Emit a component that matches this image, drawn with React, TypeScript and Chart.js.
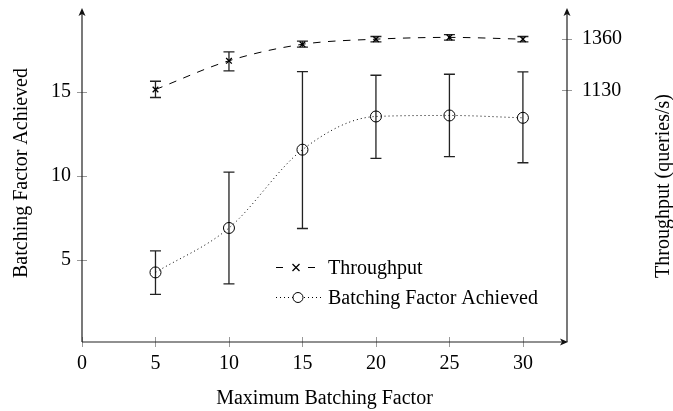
import React, { useEffect, useRef } from 'react';
import { Chart, registerables } from 'chart.js';

Chart.register(...registerables);

const batchFactors = [5, 10, 15, 20, 25, 30];
const throughput = [1134, 1263, 1337, 1360, 1368, 1360];
const throughputLow = [1098, 1218, 1324, 1348, 1356, 1348];
const throughputHigh = [1171, 1303, 1351, 1372, 1380, 1372];
const achieved = [4.23, 6.88, 11.55, 13.53, 13.59, 13.45];
const achievedLow = [2.92, 3.55, 6.85, 11.03, 11.13, 10.77];
const achievedHigh = [5.51, 10.21, 16.21, 15.99, 16.05, 16.19];
const xTicks = [0, 5, 10, 15, 20, 25, 30];
const leftTicks = [5, 10, 15];
const rightTicks = [1130, 1360];
const xTitle = 'Maximum Batching Factor';
const leftTitle = 'Batching Factor Achieved';
const rightTitle = 'Throughput (queries/s)';
const seriesNames = ['Throughput', 'Batching Factor Achieved'];

const FAMILY = '"Liberation Serif", "Times New Roman", serif';
const FONT = '20px ' + FAMILY;

function arrowUp(ctx: CanvasRenderingContext2D, x: number, y: number) {
  ctx.beginPath();
  ctx.moveTo(x, y);
  ctx.lineTo(x - 3.5, y + 8);
  ctx.lineTo(x, y + 6);
  ctx.lineTo(x + 3.5, y + 8);
  ctx.closePath();
  ctx.fill();
}
function arrowRight(ctx: CanvasRenderingContext2D, x: number, y: number) {
  ctx.beginPath();
  ctx.moveTo(x, y);
  ctx.lineTo(x - 8, y - 3.5);
  ctx.lineTo(x - 6, y);
  ctx.lineTo(x - 8, y + 3.5);
  ctx.closePath();
  ctx.fill();
}

const decorPlugin = {
  id: 'decor',
  beforeDatasetsDraw(chart: any) {
    const ctx = chart.ctx as CanvasRenderingContext2D;
    const xs = chart.scales.x;
    const bars = (scale: any, lows: number[], highs: number[]) => {
      ctx.save();
      ctx.strokeStyle = '#222';
      ctx.lineWidth = 1.3;
      batchFactors.forEach((v, i) => {
        const px = xs.getPixelForValue(v);
        const y1 = scale.getPixelForValue(lows[i]);
        const y2 = scale.getPixelForValue(highs[i]);
        ctx.beginPath();
        ctx.moveTo(px, y1);
        ctx.lineTo(px, y2);
        ctx.moveTo(px - 5.5, y1);
        ctx.lineTo(px + 5.5, y1);
        ctx.moveTo(px - 5.5, y2);
        ctx.lineTo(px + 5.5, y2);
        ctx.stroke();
      });
      ctx.restore();
    };
    bars(chart.scales.y1, throughputLow, throughputHigh);
    bars(chart.scales.y, achievedLow, achievedHigh);
  },
  afterDraw(chart: any) {
    const ctx = chart.ctx as CanvasRenderingContext2D;
    const a = chart.chartArea;
    const xs = chart.scales.x;
    const yl = chart.scales.y;
    const yr = chart.scales.y1;
    ctx.save();
    // tick marks
    ctx.strokeStyle = '#999';
    ctx.lineWidth = 1;
    ctx.beginPath();
    xTicks.forEach((v) => {
      const p = Math.round(xs.getPixelForValue(v)) + 0.5;
      ctx.moveTo(p, a.bottom - 5);
      ctx.lineTo(p, a.bottom + 5);
    });
    leftTicks.forEach((v) => {
      const p = Math.round(yl.getPixelForValue(v)) + 0.5;
      ctx.moveTo(a.left - 5, p);
      ctx.lineTo(a.left + 5, p);
    });
    rightTicks.forEach((v) => {
      const p = Math.round(yr.getPixelForValue(v)) + 0.5;
      ctx.moveTo(a.right - 5, p);
      ctx.lineTo(a.right + 5, p);
    });
    ctx.stroke();
    // axes
    ctx.strokeStyle = '#222';
    ctx.fillStyle = '#111';
    ctx.lineWidth = 1.2;
    ctx.beginPath();
    ctx.moveTo(a.left, a.bottom);
    ctx.lineTo(a.left, a.top + 4);
    ctx.moveTo(a.left, a.bottom);
    ctx.lineTo(a.right - 3, a.bottom);
    ctx.moveTo(a.right, a.bottom);
    ctx.lineTo(a.right, a.top + 4);
    ctx.stroke();
    arrowUp(ctx, a.left, a.top);
    arrowUp(ctx, a.right, a.top);
    arrowRight(ctx, a.right + 1, a.bottom);

    // titles
    ctx.fillStyle = '#000';
    ctx.font = FONT;
    ctx.textAlign = 'center';
    ctx.textBaseline = 'alphabetic';
    ctx.fillText(xTitle, (a.left + a.right) / 2, a.bottom + 62);
    ctx.save();
    ctx.translate(a.left - 55, (a.top + a.bottom) / 2 - 2);
    ctx.rotate(-Math.PI / 2);
    ctx.fillText(leftTitle, 0, 0);
    ctx.restore();
    ctx.save();
    ctx.translate(a.right + 102, (a.top + a.bottom) / 2 + 11);
    ctx.rotate(-Math.PI / 2);
    ctx.fillText(rightTitle, 0, 0);
    ctx.restore();

    // legend
    const lx = a.left + 194;
    const r1 = 267.5;
    const r2 = 297.5;
    ctx.strokeStyle = '#000';
    ctx.lineWidth = 1;
    ctx.beginPath();
    ctx.moveTo(lx, r1);
    ctx.lineTo(lx + 7, r1);
    ctx.moveTo(lx + 32, r1);
    ctx.lineTo(lx + 39, r1);
    ctx.stroke();
    const mx = lx + 20;
    ctx.lineWidth = 1.3;
    ctx.beginPath();
    ctx.moveTo(mx - 3.5, r1 - 3.5);
    ctx.lineTo(mx + 3.5, r1 + 3.5);
    ctx.moveTo(mx - 3.5, r1 + 3.5);
    ctx.lineTo(mx + 3.5, r1 - 3.5);
    ctx.stroke();
    ctx.lineWidth = 1;
    ctx.setLineDash([1, 3]);
    ctx.beginPath();
    ctx.moveTo(lx, r2);
    ctx.lineTo(lx + 46, r2);
    ctx.stroke();
    ctx.setLineDash([]);
    ctx.beginPath();
    ctx.arc(lx + 22, r2, 5, 0, Math.PI * 2);
    ctx.fillStyle = '#fff';
    ctx.fill();
    ctx.stroke();
    ctx.fillStyle = '#000';
    ctx.textAlign = 'left';
    ctx.fillText(seriesNames[0], lx + 52, r1 + 6.5);
    ctx.fillText(seriesNames[1], lx + 52, r2 + 6.5);
    ctx.restore();
  },
};

export default function App() {
  const ref = useRef<HTMLCanvasElement | null>(null);
  useEffect(() => {
    if (!ref.current) return;
    const tickFont = { family: FAMILY, size: 20 };
    const fmt = (v: any) => String(v);
    const noGrid = { display: false, drawTicks: false, tickLength: 0 };
    const chart = new Chart(ref.current, {
      type: 'line',
      data: {
        datasets: [
          {
            label: seriesNames[0],
            data: batchFactors.map((x, i) => ({ x, y: throughput[i] })),
            yAxisID: 'y1',
            borderColor: '#000',
            borderWidth: 1,
            borderDash: [7.5, 7.5],
            pointStyle: 'crossRot',
            pointRadius: 4,
            pointBorderWidth: 1.3,
            pointBorderColor: '#000',
            cubicInterpolationMode: 'monotone',
            fill: false,
          },
          {
            label: seriesNames[1],
            data: batchFactors.map((x, i) => ({ x, y: achieved[i] })),
            yAxisID: 'y',
            borderColor: '#000',
            borderWidth: 1,
            borderDash: [1, 3],
            pointStyle: 'circle',
            pointRadius: 5.5,
            pointBorderWidth: 1,
            pointBorderColor: '#000',
            pointBackgroundColor: 'rgba(0,0,0,0)',
            cubicInterpolationMode: 'monotone',
            fill: false,
          },
        ],
      },
      options: {
        animation: false,
        responsive: false,
        layout: { padding: { top: 8, left: 0, right: 0, bottom: 0 } },
        plugins: { legend: { display: false }, tooltip: { enabled: false } },
        scales: {
          x: {
            type: 'linear',
            min: 0,
            max: 33,
            grid: noGrid,
            border: { display: false },
            afterBuildTicks: (s: any) => {
              s.ticks = xTicks.map((v) => ({ value: v }));
            },
            afterFit: (s: any) => {
              s.height = 69;
              s.paddingLeft = 0;
              s.paddingRight = 0;
            },
            ticks: { autoSkip: false, maxRotation: 0, font: tickFont, color: '#000', padding: 10, callback: fmt },
          },
          y: {
            type: 'linear',
            position: 'left',
            min: 0.08,
            max: 20,
            grid: noGrid,
            border: { display: false },
            afterBuildTicks: (s: any) => {
              s.ticks = leftTicks.map((v) => ({ value: v }));
            },
            afterFit: (s: any) => {
              s.width = 82;
              s.paddingTop = 0;
              s.paddingBottom = 0;
            },
            ticks: { autoSkip: false, font: tickFont, color: '#000', padding: 11, callback: fmt },
          },
          y1: {
            type: 'linear',
            position: 'right',
            min: 0,
            max: 1500,
            grid: noGrid,
            border: { display: false },
            afterBuildTicks: (s: any) => {
              s.ticks = rightTicks.map((v) => ({ value: v }));
            },
            afterFit: (s: any) => {
              s.width = 106;
              s.paddingTop = 0;
              s.paddingBottom = 0;
            },
            ticks: { autoSkip: false, font: tickFont, color: '#000', padding: 15, callback: fmt },
          },
        },
      },
      plugins: [decorPlugin],
    } as any);
    return () => chart.destroy();
  }, []);
  return (
    <div style={{ position: 'fixed', left: 0, top: 0, width: 673, height: 411, background: '#fff' }}>
      <canvas ref={ref} width={673} height={411} style={{ display: 'block' }} />
    </div>
  );
}
